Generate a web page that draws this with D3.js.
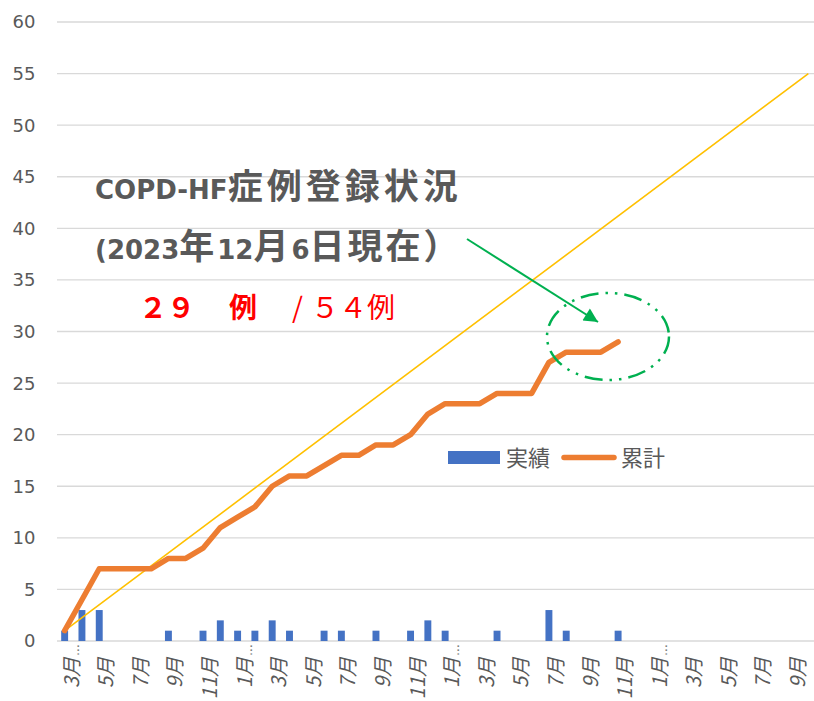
<!DOCTYPE html>
<html><head><meta charset="utf-8">
<script src="https://cdn.jsdelivr.net/npm/d3@7"></script>
<style>html,body{margin:0;padding:0;background:#fff;} svg{display:block;}</style>
</head><body><svg id="chart" width="814" height="701"></svg>
<script>
// ---- data ----
const categories = ["3月…","4月","5月","6月","7月","8月","9月","10月","11月","12月",
  "1月…","2月","3月","4月","5月","6月","7月","8月","9月","10月","11月","12月",
  "1月…","2月","3月","4月","5月","6月","7月","8月","9月","10月","11月","12月",
  "1月…","2月","3月","4月","5月","6月","7月","8月","9月","10月"];
const actual = [1,3,3,0,0,0,1,0,1,2,1,1,2,1,0,1,1,0,1,0,1,2,1,0,0,1,0,0,3,1,0,0,1];
const cumulative = [1,4,7,7,7,7,8,8,9,11,12,13,15,16,16,17,18,18,19,19,20,22,23,23,23,24,24,24,27,28,28,28,29];
const targetIdx = [0, 43];
const targetVal = [1, 55];
const yTicks = [0,5,10,15,20,25,30,35,40,45,50,55,60];
const seriesNames = ["実績","累計"];
const titleLine1 = ["COPD-HF","症例登録状況"];
const titleLine2 = ["(","2023","年","12","月","6","日現在）"];
const countText = ["２９","例","/","５４例"];

// ---- layout ----
const svg = d3.select("#chart");
const W = 814, H = 701;
svg.append("rect").attr("width",W).attr("height",H).attr("fill","#fff");
const pLeft = 56, pRight = 817, pTop = 22, pBottom = 641;
const x = d3.scaleBand().domain(d3.range(categories.length)).range([pLeft,pRight]).padding(0);
const xc = i => x(0) + x.step()*(i+0.5);
const y = d3.scaleLinear().domain([0,60]).range([pBottom, pTop]);
const gray = "#595959";
const cjk = "'Noto Sans CJK JP','Noto Sans',sans-serif";

// gridlines
svg.append("g").selectAll("line").data(yTicks).join("line")
  .attr("x1",57).attr("x2",W).attr("y1",d=>y(d)).attr("y2",d=>y(d))
  .attr("stroke","#d9d9d9").attr("stroke-width",1.3);

// y tick labels
svg.append("g").selectAll("text").data(yTicks).join("text")
  .attr("x",35.5).attr("y",d=>y(d)).attr("dy","0.36em").attr("text-anchor","end")
  .attr("font-family","'DejaVu Sans',sans-serif").attr("font-size",18).attr("fill",gray)
  .text(d=>d);

// x labels
const xl = svg.append("g").selectAll("g").data(categories.map((c,i)=>({c,i})).filter(d=>d.i%2===0)).join("g")
  .attr("transform",d=>`translate(${xc(d.i)+14},657) rotate(-90)`);
xl.append("text").attr("text-anchor","end")
  .attr("font-family",cjk).attr("font-size",20).attr("font-style","italic").attr("fill",gray)
  .text(d=>d.c.replace("…",""));
xl.filter(d=>d.c.endsWith("…")).append("text").attr("x",1).attr("text-anchor","start")
  .attr("font-family","'DejaVu Sans',sans-serif").attr("font-size",12).attr("fill",gray)
  .text("…");

// bars
const bw = x.step()*0.4;
svg.append("g").selectAll("rect").data(actual.map((v,i)=>({v,i})).filter(d=>d.v>0)).join("rect")
  .attr("x",d=>xc(d.i)-bw/2).attr("width",bw)
  .attr("y",d=>y(d.v)).attr("height",d=>y(0)-y(d.v)).attr("fill","#4472C4");

// target line
svg.append("path").datum(targetIdx.map((t,k)=>({i:t,v:targetVal[k]})))
  .attr("d",d3.line().x(d=>xc(d.i)).y(d=>y(d.v)))
  .attr("fill","none").attr("stroke","#FFC000").attr("stroke-width",1.6);

// cumulative line
svg.append("path").datum(cumulative)
  .attr("d",d3.line().x((d,i)=>xc(i)).y(d=>y(d)))
  .attr("fill","none").attr("stroke","#ED7D31").attr("stroke-width",5.5)
  .attr("stroke-linejoin","round").attr("stroke-linecap","round");

// legend
const lg = svg.append("g");
lg.append("rect").attr("x",448).attr("y",451).attr("width",52).attr("height",13).attr("fill","#4472C4");
lg.append("text").attr("x",506).attr("y",466).attr("font-family",cjk).attr("font-size",22).attr("fill",gray).text(seriesNames[0]);
lg.append("line").attr("x1",564).attr("x2",614).attr("y1",457.5).attr("y2",457.5)
  .attr("stroke","#ED7D31").attr("stroke-width",5.5).attr("stroke-linecap","round");
lg.append("text").attr("x",621).attr("y",466).attr("font-family",cjk).attr("font-size",22).attr("fill",gray).text(seriesNames[1]);

// title
const t1 = svg.append("text").attr("x",95).attr("y",199).attr("fill",gray).attr("font-weight","bold");
t1.append("tspan").attr("font-family","'DejaVu Sans',sans-serif").attr("font-size",26).text(titleLine1[0]);
t1.append("tspan").attr("font-family",cjk).attr("font-size",35).attr("letter-spacing",4).text(titleLine1[1]);
const t2 = svg.append("text").attr("x",95).attr("y",259).attr("fill",gray).attr("font-weight","bold");
titleLine2.forEach(s=>{
  const isLatin = /^[0-9(]+$/.test(s);
  t2.append("tspan").attr("font-family", isLatin ? "'DejaVu Sans',sans-serif" : cjk)
    .attr("font-size", isLatin ? 26 : 35).attr("letter-spacing", isLatin ? 0 : 3).text(s);
});

// red count text
const rt = svg.append("text").attr("y",318).attr("fill","#FF0000").attr("font-family",cjk).attr("font-size",28);
rt.append("tspan").attr("x",139).attr("font-weight","bold").text(countText[0]);
rt.append("tspan").attr("x",229).attr("font-weight","bold").text(countText[1]);
rt.append("tspan").attr("x",292).text(countText[2]);
rt.append("tspan").attr("x",311).text(countText[3]);

// arrow
const defs = svg.append("defs");
defs.append("marker").attr("id","ah").attr("viewBox","0 0 10 10").attr("refX",10).attr("refY",5)
  .attr("markerWidth",8).attr("markerHeight",7).attr("orient","auto").attr("markerUnits","strokeWidth")
  .append("path").attr("d","M0,0 L10,5 L0,10 Z").attr("fill","#00B050");
svg.append("line").attr("x1",467).attr("y1",239).attr("x2",598).attr("y2",322)
  .attr("stroke","#00B050").attr("stroke-width",2).attr("marker-end","url(#ah)");

// dashed ellipse
svg.append("ellipse").attr("cx",608).attr("cy",336.5).attr("rx",61).attr("ry",43.5)
  .attr("fill","none").attr("stroke","#00B050").attr("stroke-width",2.5)
  .attr("stroke-dasharray","18 7 2.5 7 2.5 7");
</script></body></html>
